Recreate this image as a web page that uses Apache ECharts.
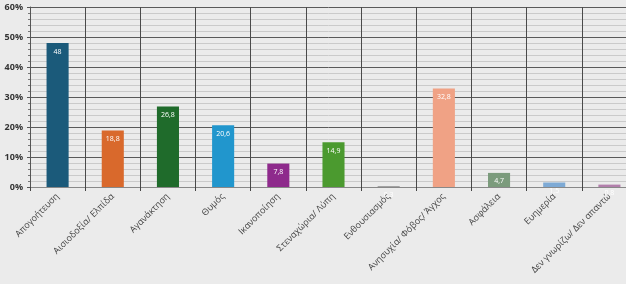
<!DOCTYPE html>
<html><head><meta charset="utf-8">
<script src="https://cdn.jsdelivr.net/npm/echarts@6/dist/echarts.min.js"></script>
<style>html,body{margin:0;padding:0;background:#ebebeb}#c{width:626px;height:284px}</style>
</head><body><div id="c"></div>
<script>
const categories = ['Απογοήτευση','Αισιοδοξία/ Ελπίδα','Αγανάκτηση','Θυμός','Ικανοποίηση','Στεναχώρια/ Λύπη','Ενθουσιασμός','Ανησυχία/ Φόβος/ Άγχος','Ασφάλεια','Ευημερία','Δεν γνωρίζω/ Δεν απαντώ'];
const values = [48, 18.8, 26.8, 20.6, 7.8, 14.9, 0.3, 32.8, 4.7, 1.5, 0.8];
const labels = ['48','18,8','26,8','20,6','7,8','14,9','0,3','32,8','4,7','1,5','0,8'];
const colors = ['#1b5a7a','#d9692c','#1f6b2b','#2196cd','#8e2a8c','#4b9a2f','#9a9a9a','#f0a285','#7b9b7c','#7eaad5','#b27fab'];
const yTicks = [0,10,20,30,40,50,60];

const chart = echarts.init(document.getElementById('c'));
chart.setOption({
  backgroundColor: '#ebebeb',
  animation: false,
  grid: {left: 30, width: 607, top: 7, height: 180, containLabel: false, outerBoundsMode: 'none'},
  xAxis: {
    type: 'category', data: categories,
    axisLine: {show: true, lineStyle: {color: '#888', width: 1}},
    axisTick: {show: true, length: 4, lineStyle: {color: '#444'}},
    splitLine: {show: true, interval: 0, lineStyle: {color: '#4a4a4a', width: 1}},
    axisLabel: {rotate: 45, interval: 0, fontSize: 9, color: '#444', fontFamily: 'Open Sans', margin: 8}
  },
  yAxis: {
    type: 'value', min: yTicks[0], max: yTicks[yTicks.length-1], interval: 10,
    axisLine: {show: true, lineStyle: {color: '#555'}},
    axisTick: {show: true, length: 3, lineStyle: {color: '#555'}},
    minorTick: {show: true, splitNumber: 5, length: 2, lineStyle: {color: '#777'}},
    splitLine: {show: true, lineStyle: {color: '#5a5a5a', width: 1}},
    minorSplitLine: {show: true, lineStyle: {color: '#cacaca', width: 1}},
    axisLabel: {formatter: v => v + '%', fontSize: 9, fontWeight: 'bold', color: '#333', fontFamily: 'Open Sans', margin: 7}
  },
  series: [{
    type: 'bar', barWidth: '40%',
    data: values.map((v,i) => ({value: v, itemStyle: {color: colors[i]}})),
    label: {show: true, position: 'insideTop', distance: 5, fontSize: 7, color: '#fff', fontFamily: 'Open Sans',
      formatter: p => labels[p.dataIndex]}
  }]
});
</script></body></html>
